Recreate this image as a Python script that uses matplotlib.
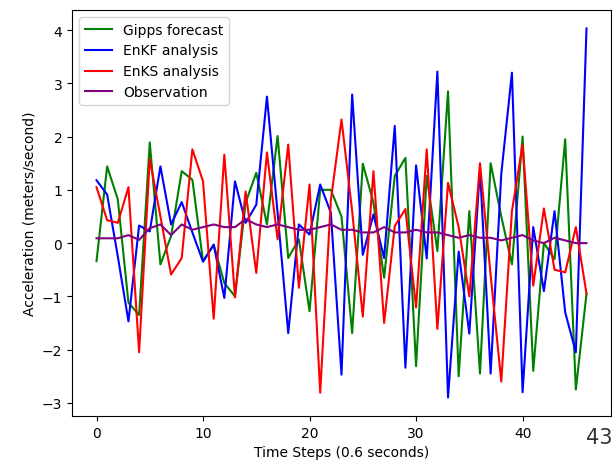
import matplotlib
matplotlib.use("Agg")
from matplotlib import pyplot as plt

# time step index
steps = list(range(47))

gipps = [-0.34, 1.44, 0.82, -1.12, -1.35, 1.89, -0.40, 0.13, 1.35, 1.19,
         -0.34, -0.03, -0.75, -1.00, 0.76, 1.32, 0.35, 2.01, -0.28, 0.07,
         -1.28, 1.00, 1.00, 0.50, -1.69, 1.49, 0.76, -0.65, 1.26, 1.60,
         -2.31, 1.26, -0.15, 2.85, -2.50, 0.60, -2.45, 1.50, 0.50, -0.40,
         2.00, -2.40, 0.00, -0.30, 1.95, -2.75, -0.95]

enkf = [1.18, 0.91, -0.25, -1.47, 0.33, 0.22, 1.44, 0.35, 0.77, 0.20,
        -0.35, -0.03, -1.03, 1.16, 0.38, 0.72, 2.75, 0.57, -1.69, 0.35,
        0.16, 1.10, 0.57, -2.47, 2.79, -0.22, 0.54, -0.28, 2.20, -2.34,
        1.46, -0.29, 3.22, -2.90, -0.16, -1.70, 1.40, -2.45, 1.30, 3.20,
        -2.80, 0.30, -0.90, 0.60, -1.30, -2.05, 4.03]

enks = [1.05, 0.43, 0.38, 1.05, -2.05, 1.58, 0.50, -0.59, -0.28, 1.76,
        1.16, -1.42, 1.66, -1.02, 0.97, -0.56, 1.70, 0.07, 1.85, -0.84,
        1.10, -2.81, 0.80, 2.32, 0.60, -1.38, 1.35, -1.50, 0.32, 0.64,
        -1.21, 1.76, -1.61, 1.13, 0.30, -1.00, 1.50, -0.60, -2.60, 0.60,
        1.85, -0.80, 0.65, -0.50, -0.55, 0.30, -0.95]

obs = [0.09, 0.09, 0.09, 0.15, 0.06, 0.28, 0.35, 0.15, 0.35, 0.25,
       0.30, 0.35, 0.30, 0.30, 0.45, 0.35, 0.30, 0.35, 0.30, 0.25,
       0.25, 0.30, 0.35, 0.25, 0.25, 0.20, 0.20, 0.30, 0.20, 0.20,
       0.25, 0.20, 0.20, 0.15, 0.10, 0.15, 0.10, 0.10, 0.05, 0.10,
       0.15, 0.05, 0.00, 0.10, 0.05, 0.00, 0.00]

fig = plt.figure(figsize=(6.14, 4.64), dpi=100)
ax = fig.add_axes([72 / 614, 1 - 417 / 464, 539 / 614, 406 / 464])

ax.plot(steps, gipps, color='green', label='Gipps forecast')
ax.plot(steps, enkf, color='blue', label='EnKF analysis')
ax.plot(steps, enks, color='red', label='EnKS analysis')
ax.plot(steps, obs, color='purple', label='Observation')

ax.set_xlabel('Time Steps (0.6 seconds)')
ax.set_ylabel('Acceleration (meters/second)')
ax.legend(loc='upper left')

# slide number overlaid at the bottom right
fig.text(0.998, 0.055, '43', fontsize=15, color='#333333', ha='right', va='center')

fig.savefig('out.png', dpi=100)
